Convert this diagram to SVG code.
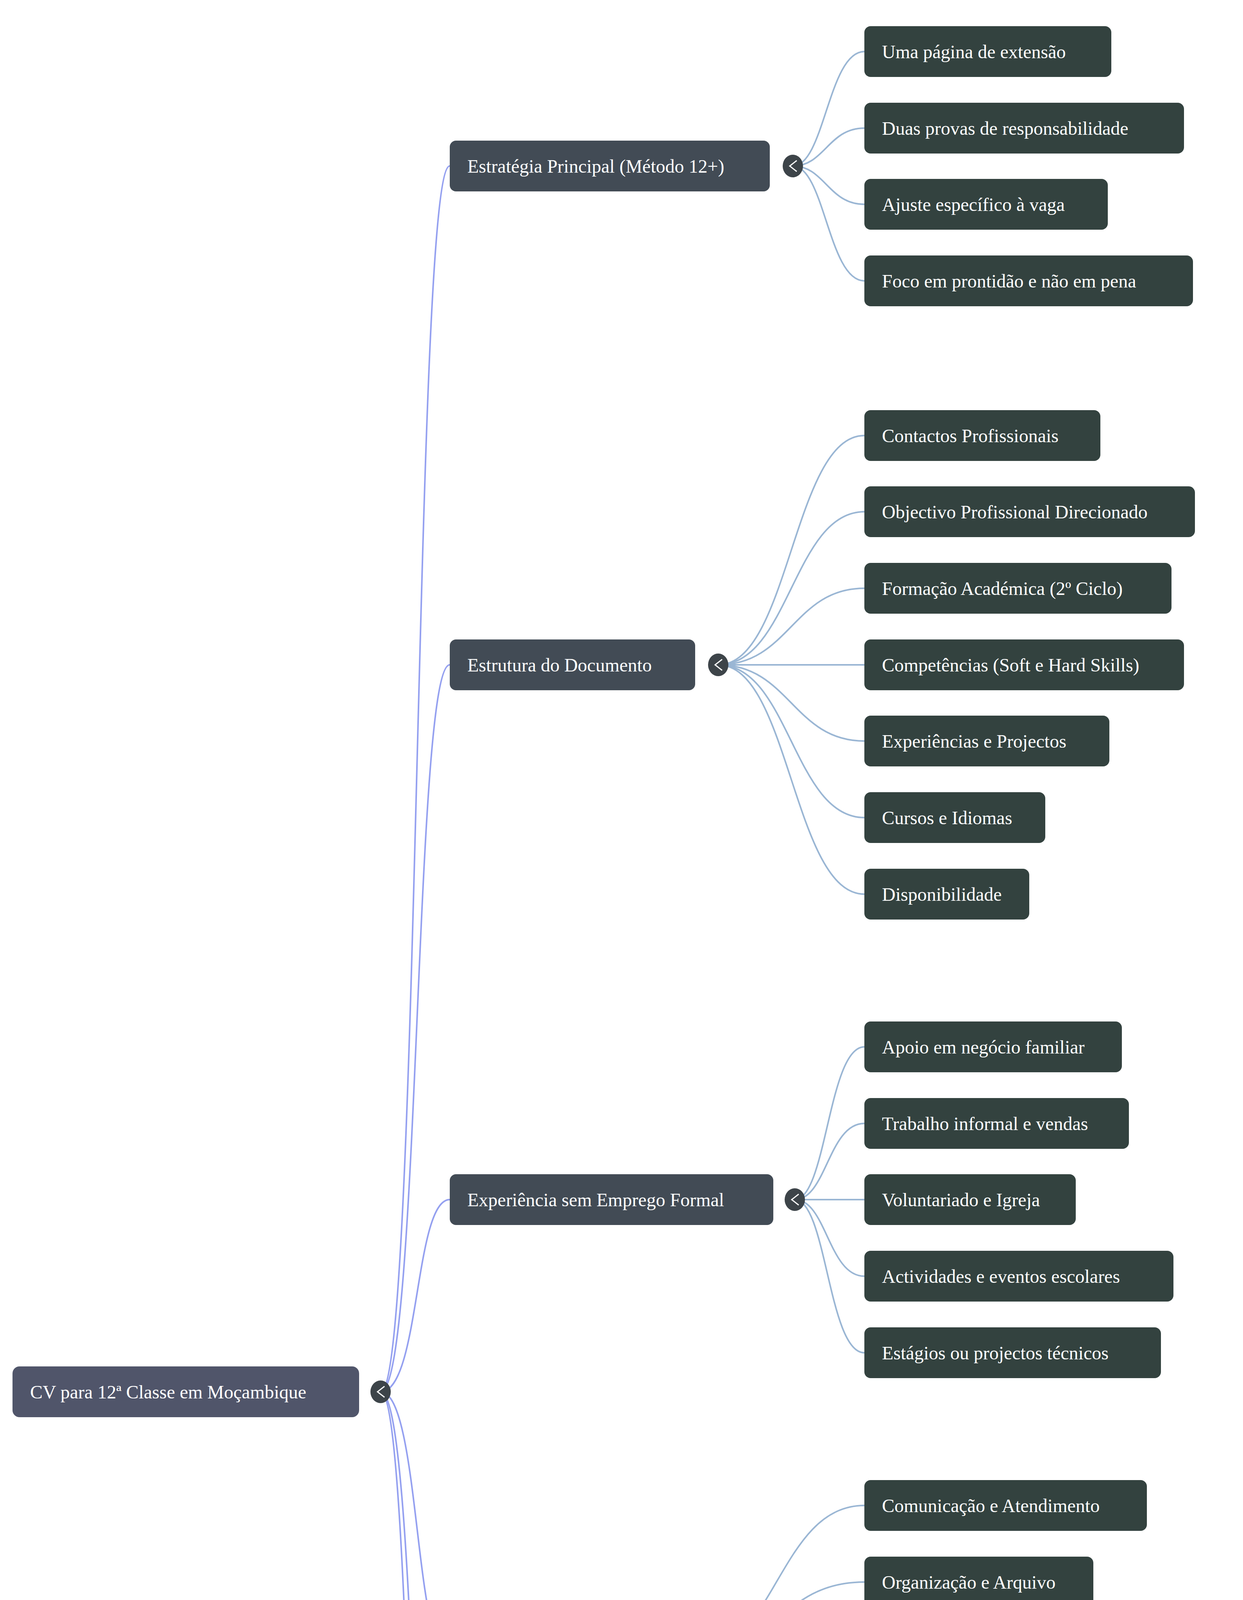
<svg xmlns="http://www.w3.org/2000/svg" width="3181" height="7136" viewBox="0 0 3181 7136">
<style>
text{font-family:"Liberation Serif","Times New Roman",serif;font-size:48px;fill:#fff;dominant-baseline:central}
.root{fill:#50556a}.l1{fill:#424b55}.leaf{fill:#33423f}
.rc{fill:none;stroke:#94a0f0;stroke-width:4}
.lc{fill:none;stroke:#9ab6d4;stroke-width:4}
.cc{fill:#3d4449}.chev{fill:none;stroke:#fff;stroke-width:3}
</style>
<rect width="3181" height="7136" fill="#fff"/>
<g id="connectors">
<path class="rc" d="M974 3563 C1075 3563 1060 425 1151 425"/>
<path class="rc" d="M974 3563 C1075 3563 1060 1702 1151 1702"/>
<path class="rc" d="M974 3563 C1075 3563 1060 3071 1151 3071"/>
<path class="rc" d="M974 3563 C1075 3563 1060 4245 1151 4245"/>
<path class="rc" d="M974 3563 C1075 3563 1060 5521 1151 5521"/>
<path class="rc" d="M974 3563 C1075 3563 1060 6695 1151 6695"/>
<g>
<path class="lc" d="M2029 425 C2110 425 2120 132 2212 132"/>
<path class="lc" d="M2029 425 C2110 425 2120 328 2212 328"/>
<path class="lc" d="M2029 425 C2110 425 2120 523 2212 523"/>
<path class="lc" d="M2029 425 C2110 425 2120 719 2212 719"/>
</g>
<g>
<path class="lc" d="M1838 1702 C2020 1702 2030 1115 2212 1115"/>
<path class="lc" d="M1838 1702 C2020 1702 2030 1310 2212 1310"/>
<path class="lc" d="M1838 1702 C2020 1702 2030 1506 2212 1506"/>
<path class="lc" d="M1838 1702 C2020 1702 2030 1702 2212 1702"/>
<path class="lc" d="M1838 1702 C2020 1702 2030 1897 2212 1897"/>
<path class="lc" d="M1838 1702 C2020 1702 2030 2093 2212 2093"/>
<path class="lc" d="M1838 1702 C2020 1702 2030 2289 2212 2289"/>
</g>
<g>
<path class="lc" d="M2034 3071 C2115 3071 2120 2680 2212 2680"/>
<path class="lc" d="M2034 3071 C2115 3071 2120 2876 2212 2876"/>
<path class="lc" d="M2034 3071 C2115 3071 2120 3071 2212 3071"/>
<path class="lc" d="M2034 3071 C2115 3071 2120 3267 2212 3267"/>
<path class="lc" d="M2034 3071 C2115 3071 2120 3463 2212 3463"/>
</g>
<g>
<path class="lc" d="M1761 4245 C1985 4245 1990 3854 2212 3854"/>
<path class="lc" d="M1761 4245 C1985 4245 1990 4050 2212 4050"/>
<path class="lc" d="M1761 4245 C1985 4245 1990 4245 2212 4245"/>
<path class="lc" d="M1761 4245 C1985 4245 1990 4441 2212 4441"/>
<path class="lc" d="M1761 4245 C1985 4245 1990 4636 2212 4636"/>
</g>
<g>
<path class="lc" d="M1583 5521 C1900 5521 1900 5032 2212 5032"/>
<path class="lc" d="M1583 5521 C1900 5521 1900 5228 2212 5228"/>
<path class="lc" d="M1583 5521 C1900 5521 1900 5424 2212 5424"/>
<path class="lc" d="M1583 5521 C1900 5521 1900 5619 2212 5619"/>
<path class="lc" d="M1583 5521 C1900 5521 1900 5815 2212 5815"/>
<path class="lc" d="M1583 5521 C1900 5521 1900 6011 2212 6011"/>
</g>
<g>
<path class="lc" d="M1929 6695 C2070 6695 2075 6402 2212 6402"/>
<path class="lc" d="M1929 6695 C2070 6695 2075 6598 2212 6598"/>
<path class="lc" d="M1929 6695 C2070 6695 2075 6793 2212 6793"/>
<path class="lc" d="M1929 6695 C2070 6695 2075 6989 2212 6989"/>
</g>
</g>
<g id="root"><rect class="root" x="32" y="3498" width="887" height="130" rx="18"/><text x="77" y="3563">CV para 12ª Classe em Moçambique</text>
<ellipse class="cc" cx="974" cy="3563" rx="26" ry="29"/><path class="chev" d="M984 3549 L966 3563 L984 3577"/></g>

<g id="n1"><rect class="l1" x="1151" y="360" width="819" height="130" rx="16"/><text x="1196" y="425">Estratégia Principal (Método 12+)</text>
<ellipse class="cc" cx="2029" cy="425" rx="26" ry="29"/><path class="chev" d="M2039 411 L2021 425 L2039 439"/></g>
<g id="n2"><rect class="l1" x="1151" y="1637" width="628" height="130" rx="16"/><text x="1196" y="1702">Estrutura do Documento</text>
<ellipse class="cc" cx="1838" cy="1702" rx="26" ry="29"/><path class="chev" d="M1848 1688 L1830 1702 L1848 1716"/></g>
<g id="n3"><rect class="l1" x="1151" y="3006" width="828" height="130" rx="16"/><text x="1196" y="3071">Experiência sem Emprego Formal</text>
<ellipse class="cc" cx="2034" cy="3071" rx="26" ry="29"/><path class="chev" d="M2044 3057 L2026 3071 L2044 3085"/></g>
<g id="n4"><rect class="l1" x="1151" y="4180" width="555" height="130" rx="16"/><text x="1196" y="4245">Competências Chave</text>
<ellipse class="cc" cx="1761" cy="4245" rx="26" ry="29"/><path class="chev" d="M1771 4231 L1753 4245 L1771 4259"/></g>
<g id="n5"><rect class="l1" x="1151" y="5456" width="378" height="130" rx="16"/><text x="1196" y="5521">Erros a Evitar</text>
<ellipse class="cc" cx="1583" cy="5521" rx="26" ry="29"/><path class="chev" d="M1593 5507 L1575 5521 L1593 5535"/></g>
<g id="n6"><rect class="l1" x="1151" y="6630" width="719" height="130" rx="16"/><text x="1196" y="6695">Ferramentas Recomendadas</text>
<ellipse class="cc" cx="1929" cy="6695" rx="26" ry="29"/><path class="chev" d="M1939 6681 L1921 6695 L1939 6709"/></g>

<g id="l1a"><rect class="leaf" x="2212" y="67" width="632" height="130" rx="16"/><text x="2257" y="132">Uma página de extensão</text></g>
<g id="l1b"><rect class="leaf" x="2212" y="263" width="818" height="130" rx="16"/><text x="2257" y="328">Duas provas de responsabilidade</text></g>
<g id="l1c"><rect class="leaf" x="2212" y="458" width="623" height="130" rx="16"/><text x="2257" y="523">Ajuste específico à vaga</text></g>
<g id="l1d"><rect class="leaf" x="2212" y="654" width="841" height="130" rx="16"/><text x="2257" y="719">Foco em prontidão e não em pena</text></g>

<g id="l2a"><rect class="leaf" x="2212" y="1050" width="604" height="130" rx="16"/><text x="2257" y="1115">Contactos Profissionais</text></g>
<g id="l2b"><rect class="leaf" x="2212" y="1245" width="846" height="130" rx="16"/><text x="2257" y="1310">Objectivo Profissional Direcionado</text></g>
<g id="l2c"><rect class="leaf" x="2212" y="1441" width="786" height="130" rx="16"/><text x="2257" y="1506">Formação Académica (2º Ciclo)</text></g>
<g id="l2d"><rect class="leaf" x="2212" y="1637" width="818" height="130" rx="16"/><text x="2257" y="1702">Competências (Soft e Hard Skills)</text></g>
<g id="l2e"><rect class="leaf" x="2212" y="1832" width="627" height="130" rx="16"/><text x="2257" y="1897">Experiências e Projectos</text></g>
<g id="l2f"><rect class="leaf" x="2212" y="2028" width="463" height="130" rx="16"/><text x="2257" y="2093">Cursos e Idiomas</text></g>
<g id="l2g"><rect class="leaf" x="2212" y="2224" width="422" height="130" rx="16"/><text x="2257" y="2289">Disponibilidade</text></g>

<g id="l3a"><rect class="leaf" x="2212" y="2615" width="659" height="130" rx="16"/><text x="2257" y="2680">Apoio em negócio familiar</text></g>
<g id="l3b"><rect class="leaf" x="2212" y="2811" width="677" height="130" rx="16"/><text x="2257" y="2876">Trabalho informal e vendas</text></g>
<g id="l3c"><rect class="leaf" x="2212" y="3006" width="541" height="130" rx="16"/><text x="2257" y="3071">Voluntariado e Igreja</text></g>
<g id="l3d"><rect class="leaf" x="2212" y="3202" width="791" height="130" rx="16"/><text x="2257" y="3267">Actividades e eventos escolares</text></g>
<g id="l3e"><rect class="leaf" x="2212" y="3398" width="759" height="130" rx="16"/><text x="2257" y="3463">Estágios ou projectos técnicos</text></g>

<g id="l4a"><rect class="leaf" x="2212" y="3789" width="723" height="130" rx="16"/><text x="2257" y="3854">Comunicação e Atendimento</text></g>
<g id="l4b"><rect class="leaf" x="2212" y="3985" width="586" height="130" rx="16"/><text x="2257" y="4050">Organização e Arquivo</text></g>
<g id="l4c"><rect class="leaf" x="2212" y="4180" width="668" height="130" rx="16"/><text x="2257" y="4245">Informática (Word e Excel)</text></g>
<g id="l4d"><rect class="leaf" x="2212" y="4376" width="818" height="130" rx="16"/><text x="2257" y="4441">Responsabilidade e Pontualidade</text></g>
<g id="l4e"><rect class="leaf" x="2212" y="4571" width="750" height="130" rx="16"/><text x="2257" y="4636">Capacidade de Aprendizagem</text></g>

<g id="l5a"><rect class="leaf" x="2212" y="4967" width="682" height="130" rx="16"/><text x="2257" y="5032">Emails informais ou infantis</text></g>
<g id="l5b"><rect class="leaf" x="2212" y="5163" width="764" height="130" rx="16"/><text x="2257" y="5228">Dizer apenas 'sem experiência'</text></g>
<g id="l5c"><rect class="leaf" x="2212" y="5359" width="659" height="130" rx="16"/><text x="2257" y="5424">Dados sensíveis (BI, NUIT)</text></g>
<g id="l5d"><rect class="leaf" x="2212" y="5554" width="504" height="130" rx="16"/><text x="2257" y="5619">Fotos inadequadas</text></g>
<g id="l5e"><rect class="leaf" x="2212" y="5750" width="677" height="130" rx="16"/><text x="2257" y="5815">Currículo demasiado longo</text></g>
<g id="l5f"><rect class="leaf" x="2212" y="5946" width="614" height="130" rx="16"/><text x="2257" y="6011">Enviar em formato Word</text></g>

<g id="l6a"><rect class="leaf" x="2212" y="6337" width="846" height="130" rx="16"/><text x="2257" y="6402">Inademy (Modelos de 1º emprego)</text></g>
<g id="l6b"><rect class="leaf" x="2212" y="6533" width="554" height="130" rx="16"/><text x="2257" y="6598">Exportação para PDF</text></g>
<g id="l6c"><rect class="leaf" x="2212" y="6728" width="614" height="130" rx="16"/><text x="2257" y="6793">Cartas de apresentação</text></g>
<g id="l6d"><rect class="leaf" x="2212" y="6924" width="732" height="130" rx="16"/><text x="2257" y="6989">Pesquisa de vagas e estágios</text></g>
</svg>
